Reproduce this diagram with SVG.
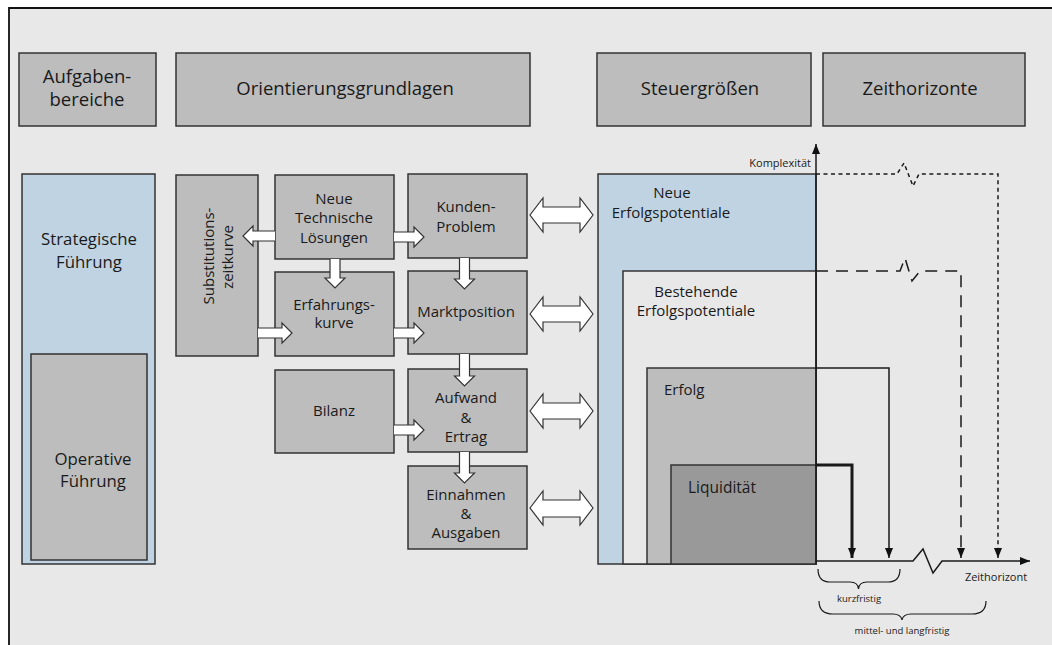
<svg xmlns="http://www.w3.org/2000/svg" width="1052" height="645" viewBox="0 0 1052 645">
  <defs>
    <style>
      .box { fill: #bdbdbd; stroke: #333; stroke-width: 1.5; }
      .blue { fill: #c0d3e2; stroke: #333; stroke-width: 1.5; }
      .plain { fill: #e8e8e8; stroke: #333; stroke-width: 1.5; }
      .dark { fill: #999999; stroke: #333; stroke-width: 1.5; }
      .arr { fill: #ffffff; stroke: #333; stroke-width: 1.2; stroke-linejoin: miter; }
      .t { font-family: "Open Sans", "Liberation Sans", sans-serif; fill: #1a1a1a; text-anchor: middle; }
      .h { font-size: 18.5px; }
      .l { font-size: 16.8px; }
      .b { font-size: 15px; }
      .s { font-size: 11px; }
      .xs { font-size: 9.5px; }
      .ln { fill: none; stroke: #1a1a1a; stroke-width: 1.5; }
    </style>
    <marker id="tip" markerUnits="userSpaceOnUse" markerWidth="10" markerHeight="10" refX="10" refY="4" orient="auto">
      <path d="M0,0 L10,4 L0,8 z" fill="#111"/>
    </marker>
  </defs>

  <!-- frame -->
  <rect x="0" y="0" width="1052" height="645" fill="#ffffff"/>
  <rect x="9" y="8" width="1050" height="645" fill="#e8e8e8"/>
  <path d="M9,645 L9,8 L1052,8" fill="none" stroke="#111" stroke-width="1.8"/>

  <!-- header row -->
  <g id="hdr-aufgaben">
    <rect class="box" x="19" y="53" width="137" height="73"/>
    <text class="t h" x="87" y="83">Aufgaben-</text>
    <text class="t h" x="87" y="106">bereiche</text>
  </g>
  <g id="hdr-orientierung">
    <rect class="box" x="176" y="53" width="354" height="73"/>
    <text class="t h" x="345" y="95">Orientierungsgrundlagen</text>
  </g>
  <g id="hdr-steuer">
    <rect class="box" x="597" y="53" width="214" height="73"/>
    <text class="t h" x="700" y="95">Steuergrößen</text>
  </g>
  <g id="hdr-zeit">
    <rect class="box" x="823" y="53" width="202" height="73"/>
    <text class="t h" x="920" y="95">Zeithorizonte</text>
  </g>

  <!-- Aufgabenbereiche -->
  <g id="strategisch">
    <rect class="blue" x="22" y="174" width="133" height="390"/>
    <text class="t l" x="89" y="245">Strategische</text>
    <text class="t l" x="89" y="268">Führung</text>
  </g>
  <g id="operativ">
    <rect class="box" x="31" y="354" width="116" height="206"/>
    <text class="t l" x="93" y="465">Operative</text>
    <text class="t l" x="93" y="487">Führung</text>
  </g>

  <!-- Orientierungsgrundlagen -->
  <g id="substitution">
    <rect class="box" x="176" y="175" width="82" height="181"/>
    <text class="t b" transform="translate(214,256) rotate(-90)" x="0" y="0">Substitutions-</text>
    <text class="t b" transform="translate(233,257) rotate(-90)" x="0" y="0">zeitkurve</text>
  </g>
  <g id="technik">
    <rect class="box" x="275" y="175" width="119" height="84"/>
    <text class="t b" x="334" y="204">Neue</text>
    <text class="t b" x="334" y="223">Technische</text>
    <text class="t b" x="334" y="243">Lösungen</text>
  </g>
  <g id="erfahrung">
    <rect class="box" x="275" y="272" width="119" height="84"/>
    <text class="t b" x="334" y="310">Erfahrungs-</text>
    <text class="t b" x="334" y="328">kurve</text>
  </g>
  <g id="bilanz">
    <rect class="box" x="275" y="370" width="119" height="83"/>
    <text class="t b" x="334" y="416">Bilanz</text>
  </g>
  <g id="kunden">
    <rect class="box" x="408" y="174" width="119" height="84"/>
    <text class="t b" x="466" y="212">Kunden-</text>
    <text class="t b" x="466" y="232">Problem</text>
  </g>
  <g id="markt">
    <rect class="box" x="408" y="271" width="119" height="83"/>
    <text class="t b" x="466" y="317">Marktposition</text>
  </g>
  <g id="aufwand">
    <rect class="box" x="408" y="369" width="119" height="83"/>
    <text class="t b" x="466" y="403">Aufwand</text>
    <text class="t b" x="466" y="423">&amp;</text>
    <text class="t b" x="466" y="442">Ertrag</text>
  </g>
  <g id="einnahmen">
    <rect class="box" x="408" y="466" width="119" height="83"/>
    <text class="t b" x="466" y="500">Einnahmen</text>
    <text class="t b" x="466" y="519">&amp;</text>
    <text class="t b" x="466" y="538">Ausgaben</text>
  </g>

  <!-- Steuergrößen, nested -->
  <g id="neue-ep">
    <rect class="blue" x="598" y="174" width="218" height="390"/>
    <text class="t b" x="672" y="198">Neue</text>
    <text class="t b" x="671" y="218">Erfolgspotentiale</text>
  </g>
  <g id="bestehende-ep">
    <rect class="plain" x="623" y="271" width="193" height="293"/>
    <text class="t b" x="696" y="297">Bestehende</text>
    <text class="t b" x="696" y="316">Erfolgspotentiale</text>
  </g>
  <g id="erfolg">
    <rect class="box" x="647" y="368" width="169" height="196"/>
    <text class="t b" x="664" y="395" style="text-anchor:start">Erfolg</text>
  </g>
  <g id="liquiditaet">
    <rect class="dark" x="671" y="465" width="145" height="99"/>
    <text class="t b" x="688" y="493" style="text-anchor:start;font-size:15.5px">Liquidität</text>
  </g>

  <!-- connectors -->
  <g id="connectors">
    <!-- block arrows between Orientierungsgrundlagen -->
    <path class="arr" d="M275,231 L253,231 L253,226 L243,236 L253,246 L253,241 L275,241"/>
    <path class="arr" d="M330,259 L330,278 L325,278 L335,288 L345,278 L340,278 L340,259"/>
    <path class="arr" d="M258,328 L282,328 L282,323 L292,333 L282,343 L282,338 L258,338"/>
    <path class="arr" d="M394,232 L414,232 L414,227 L424,237 L414,247 L414,242 L394,242"/>
    <path class="arr" d="M394,328 L414,328 L414,323 L424,333 L414,343 L414,338 L394,338"/>
    <path class="arr" d="M394,425 L414,425 L414,420 L424,430 L414,440 L414,435 L394,435"/>
    <path class="arr" d="M459.5,258 L459.5,279 L454.5,279 L464.5,289 L474.5,279 L469.5,279 L469.5,258"/>
    <path class="arr" d="M459.5,354 L459.5,376 L454.5,376 L464.5,386 L474.5,376 L469.5,376 L469.5,354"/>
    <path class="arr" d="M459.5,452 L459.5,473 L454.5,473 L464.5,483 L474.5,473 L469.5,473 L469.5,452"/>

    <!-- double arrows to Steuergrößen -->
    <path class="arr" d="M530,215 L543,198 L543,207 L580,207 L580,198 L593,215 L580,232 L580,223 L543,223 L543,232 Z"/>
    <path class="arr" d="M530,314 L543,297 L543,306 L580,306 L580,297 L593,314 L580,331 L580,322 L543,322 L543,331 Z"/>
    <path class="arr" d="M530,411 L543,394 L543,403 L580,403 L580,394 L593,411 L580,428 L580,419 L543,419 L543,428 Z"/>
    <path class="arr" d="M530,508 L543,491 L543,500 L580,500 L580,491 L593,508 L580,525 L580,517 L543,517 L543,525 Z"/>

    <!-- axes -->
    <path class="ln" d="M816,564 L816,144" marker-end="url(#tip)"/>
    <path class="ln" d="M816,561 L913,561 L923,549 L933,573 L942,561 L1030,561" marker-end="url(#tip)"/>

    <!-- horizon lines -->
    <path class="ln" d="M816,465 L852,465 L852,558" style="stroke-width:3" marker-end="url(#tip)"/>
    <path class="ln" d="M816,368 L889,368 L889,558" marker-end="url(#tip)"/>
    <path class="ln" d="M816,271 L900,271 L905,258 L912,281 L920,271 L961,271 L961,558" stroke-dasharray="12,8" marker-end="url(#tip)"/>
    <path class="ln" d="M816,174 L897,174 L904,163 L913,186 L919,174 L998,174 L998,558" stroke-dasharray="4,3.5" marker-end="url(#tip)"/>

    <!-- braces -->
    <path class="ln" style="stroke-width:1.2" d="M818,569 Q818,582 830,582 L850,582 Q858,582 858.5,589 Q859,582 867,582 L888,582 Q900,582 900,569"/>
    <path class="ln" style="stroke-width:1.2" d="M819,601 Q819,614 833,614 L893,614 Q901,614 902,620 Q903,614 911,614 L972,614 Q986,614 986,601"/>
  </g>

  <!-- axis labels -->
  <text class="t s" x="811" y="167" style="text-anchor:end">Komplexität</text>
  <text class="t s" x="996" y="581">Zeithorizont</text>
  <text class="t xs" x="859" y="602">kurzfristig</text>
  <text class="t xs" x="902" y="634">mittel- und langfristig</text>
</svg>
